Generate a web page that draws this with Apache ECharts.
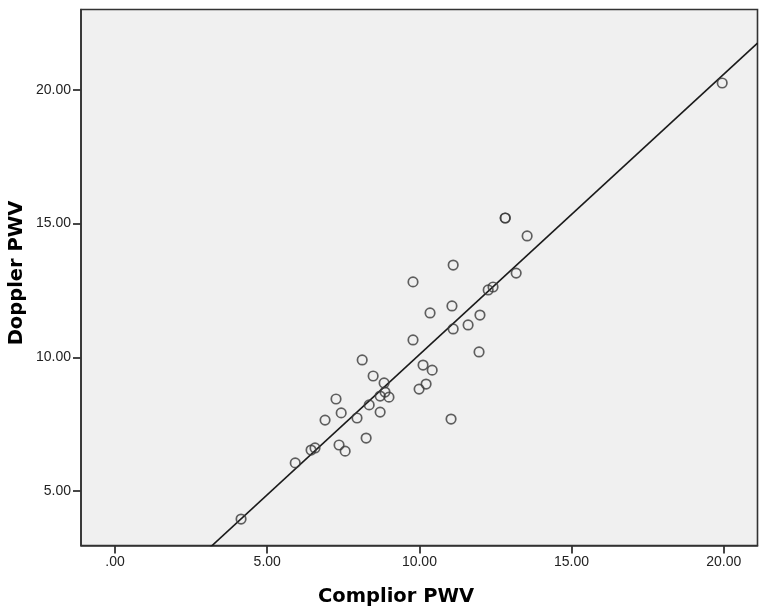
<!DOCTYPE html>
<html>
<head>
<meta charset="utf-8">
<script src="https://cdn.jsdelivr.net/npm/echarts@6/dist/echarts.min.js"></script>
<style>
  html, body { margin: 0; padding: 0; background: #fff; }
  #chart { width: 770px; height: 613px; }
</style>
</head>
<body>
<div id="chart"></div>
<script>
// Complior PWV (x)
var complior = [4.14, 5.92, 6.44, 6.57, 6.90, 7.26, 7.36, 7.43, 7.56, 7.95,
  8.12, 8.25, 8.35, 8.48, 8.71, 8.71, 8.84, 8.87, 9.00, 9.79,
  9.79, 9.99, 10.12, 10.22, 10.35, 10.42, 11.04, 11.07, 11.11, 11.11,
  11.60, 11.96, 11.99, 12.26, 12.42, 12.82, 12.82, 13.18, 13.54, 19.95];
// Doppler PWV (y)
var doppler = [3.95, 6.05, 6.53, 6.61, 7.65, 8.44, 6.72, 7.92, 6.49, 7.73,
  9.90, 6.98, 8.22, 9.30, 7.95, 8.55, 9.04, 8.70, 8.51, 12.82,
  10.65, 8.81, 9.71, 9.00, 11.66, 9.52, 7.69, 11.92, 11.06, 13.45,
  11.21, 10.20, 11.58, 12.52, 12.63, 15.21, 15.21, 13.15, 14.54, 20.26];
// fit line (intercept, slope)
var fitLine = [-0.385, 1.0486];
var xTicks = [0, 5, 10, 15, 20];
var yTicks = [5, 10, 15, 20];

var xMin = -1.12, xMax = 21.11, yMin = 2.96, yMax = 23.01;

var points = [];
for (var i = 0; i < complior.length; i++) {
  points.push([complior[i], doppler[i]]);
}
var lineData = [
  [xMin, fitLine[0] + fitLine[1] * xMin],
  [xMax, fitLine[0] + fitLine[1] * xMax]
];

//SPSS style: .00 for zero
var fmt = function(v) {
  var s = v.toFixed(2);
  return s.indexOf('0.') === 0 ? s.substring(1) : s;
};

var titleFont = 'bold 19.5px "DejaVu Sans", Verdana, sans-serif';

var chart = echarts.init(document.getElementById('chart'));
chart.setOption({
  animation: false,
  backgroundColor: '#fff',
  grid: {
    left: 81, top: 9.5, right: 12.5, bottom: 67.5,
    show: true,
    backgroundColor: '#f0f0f0',
    borderColor: '#333',
    borderWidth: 1.6
  },
  xAxis: {
    type: 'value',
    min: xMin, max: xMax,
    axisLine: { show: true, onZero: false, lineStyle: { color: '#333', width: 1.6 } },
    axisTick: {
      show: true, length: 8, inside: false,
      customValues: xTicks,
      lineStyle: { color: '#333', width: 1.8 }
    },
    axisLabel: {
      customValues: xTicks,
      formatter: fmt,
      color: '#222',
      fontFamily: '"Liberation Sans", Arial, sans-serif',
      fontSize: 14,
      margin: 10
    },
    splitLine: { show: false }
  },
  yAxis: {
    type: 'value',
    min: yMin, max: yMax,
    axisLine: { show: true, onZero: false, lineStyle: { color: '#333', width: 1.6 } },
    axisTick: {
      show: true, length: 8, inside: false,
      customValues: yTicks,
      lineStyle: { color: '#333', width: 1.8 }
    },
    axisLabel: {
      customValues: yTicks,
      formatter: fmt,
      color: '#222',
      fontFamily: '"Liberation Sans", Arial, sans-serif',
      fontSize: 14,
      margin: 10
    },
    splitLine: { show: false }
  },
  graphic: [{
    type: 'text',
    x: 396, y: 597,
    style: {
      text: 'Complior PWV',
      align: 'center', verticalAlign: 'middle',
      fill: '#000',
      font: titleFont
    }
  }, {
    type: 'text',
    x: 17, y: 273,
    rotation: Math.PI / 2,
    style: {
      text: 'Doppler PWV',
      align: 'center', verticalAlign: 'middle',
      fill: '#000',
      font: titleFont
    }
  }],
  series: [{
    type: 'line',
    data: lineData,
    symbol: 'none',
    silent: true,
    lineStyle: { color: '#1a1a1a', width: 1.6 },
    z: 2
  }, {
    type: 'scatter',
    data: points,
    symbol: 'circle',
    symbolSize: 9.5,
    itemStyle: { color: 'rgba(0,0,0,0)', borderColor: '#3a3a3a', borderWidth: 1.7 },
    z: 3
  }]
});
</script>
</body>
</html>
